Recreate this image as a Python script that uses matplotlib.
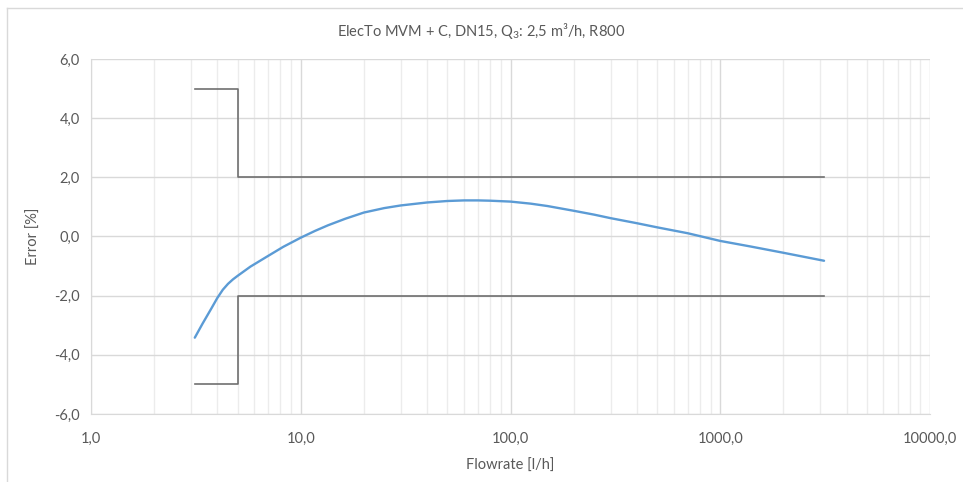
import matplotlib
matplotlib.use('Agg')
import matplotlib.pyplot as plt
from matplotlib.ticker import FixedLocator, LogLocator, FuncFormatter, NullFormatter
from matplotlib.lines import Line2D

plt.rcParams['font.family'] = ['Lato', 'DejaVu Sans']

# meter error curve
flow = [3.125, 3.4, 3.75, 4.0, 4.25, 4.5, 4.75, 5.0, 5.75, 6.9, 8.25, 10,
        11.7, 13.5, 16.3, 20, 25, 30, 40, 50, 60, 70, 80, 100, 125, 150, 200,
        250, 300, 400, 500, 700, 1000, 1400, 2000, 3125]
error = [-3.42, -2.95, -2.43, -2.08, -1.80, -1.60, -1.45, -1.33, -1.02, -0.68,
         -0.35, -0.04, 0.19, 0.38, 0.60, 0.81, 0.96, 1.05, 1.15, 1.20, 1.22,
         1.22, 1.21, 1.18, 1.11, 1.03, 0.87, 0.74, 0.62, 0.45, 0.31, 0.11,
         -0.15, -0.34, -0.55, -0.82]

# MPE limits (Q1 = 3,125 l/h, Q2 = 5 l/h, Q4 = 3125 l/h)
upper_x = [3.125, 5, 5, 3125]
upper_y = [5, 5, 2, 2]
lower_x = [3.125, 5, 5, 3125]
lower_y = [-5, -5, -2, -2]

yticks = [-6, -4, -2, 0, 2, 4, 6]
xticks = [1, 10, 100, 1000, 10000]

txt = '#595959'

fig = plt.figure(figsize=(9.63, 4.82), dpi=100)
ax = fig.add_axes([91 / 963, 1 - 414 / 482, (930 - 91) / 963, (414 - 59) / 482])

ax.plot(upper_x, upper_y, color='#6f6f6f', lw=1.2, zorder=3)
ax.plot(lower_x, lower_y, color='#6f6f6f', lw=1.2, zorder=3)
ax.plot(flow, error, color='#5b9bd5', lw=1.7, zorder=4,
        solid_joinstyle='round', solid_capstyle='round')

ax.set_xscale('log')
ax.set_xlim(1, 10000)
ax.set_ylim(-6, 6)
ax.xaxis.set_major_locator(FixedLocator(xticks))
ax.xaxis.set_minor_locator(LogLocator(base=10, subs=range(2, 10)))
ax.xaxis.set_minor_formatter(NullFormatter())
ax.yaxis.set_major_locator(FixedLocator(yticks))
comma = FuncFormatter(lambda v, p: ('%.1f' % v).replace('.', ','))
ax.xaxis.set_major_formatter(comma)
ax.yaxis.set_major_formatter(comma)

ax.grid(which='major', color='#d9d9d9', lw=1.0)
ax.grid(which='minor', axis='x', color='#ececec', lw=1.0)
ax.set_axisbelow(True)
for s in ['top', 'right']:
    ax.spines[s].set_visible(False)
ax.spines['left'].set_color('#d9d9d9')
ax.spines['bottom'].set_color('#d9d9d9')
ax.tick_params(which='both', length=0, colors=txt, labelsize=10.5)
ax.tick_params(axis='x', pad=13)
ax.tick_params(axis='y', pad=8)

ax.set_xlabel('Flowrate [l/h]', color=txt, fontsize=10.5, labelpad=9)
ax.set_ylabel('Error [%]', color=txt, fontsize=10.5, labelpad=10)
fig.text(0.5, 1 - 31 / 482,
         r'ElecTo MVM + C, DN15, Q$_\mathregular{3}$: 2,5 m³/h, R800',
         ha='center', va='center', color=txt, fontsize=10.5)

# chart area frame
fig.add_artist(Line2D([7 / 963, 1], [1 - 8 / 482, 1 - 8 / 482], color='#d9d9d9', lw=1.0))
fig.add_artist(Line2D([7 / 963, 7 / 963], [0, 1 - 8 / 482], color='#d9d9d9', lw=1.0))

fig.savefig('out.png', dpi=100)
